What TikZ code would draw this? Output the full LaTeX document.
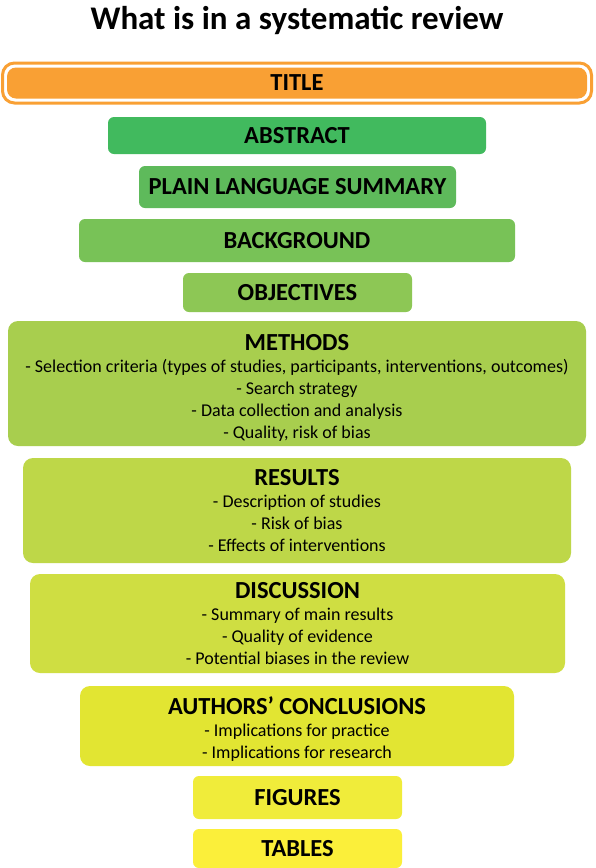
\documentclass[tikz,border=0pt]{standalone}
\usepackage{fontspec}
\setmainfont{Carlito}
\begin{document}
\begin{tikzpicture}[x=1pt,y=-1pt,
  box/.style={rounded corners=10pt, inner sep=0pt, align=center, text=black,
    font=\fontsize{18}{22}\selectfont},
  sbox/.style={box, rounded corners=6pt},
  hd/.style={font=\fontsize{24.5}{26}\selectfont\bfseries}]
\definecolor{cTitle}{RGB}{249,160,52}
\definecolor{cAbs}{RGB}{65,186,94}
\definecolor{cPls}{RGB}{94,186,91}
\definecolor{cBack}{RGB}{120,194,87}
\definecolor{cObj}{RGB}{141,199,85}
\definecolor{cMeth}{RGB}{168,206,78}
\definecolor{cRes}{RGB}{190,215,72}
\definecolor{cDis}{RGB}{207,222,66}
\definecolor{cAut}{RGB}{226,229,50}
\definecolor{cFig}{RGB}{240,236,58}
\definecolor{cTab}{RGB}{251,239,58}
\useasboundingbox (0,0) rectangle (595,868);
\fill[white] (0,0) rectangle (595,868);
\newcommand{\hdtxt}[2][0pt]{{\fontsize{24.5}{26}\selectfont\bfseries\rule{0pt}{#1}#2}}
\node[font=\fontsize{33}{36}\selectfont\bfseries] (maintitle) at (297,20) {What is in a systematic review};
\node[draw=cTitle, line width=3pt, rounded corners=12pt, minimum width=589pt, minimum height=40pt] (titleouter) at (297,83) {};
\node[sbox, fill=cTitle, rounded corners=9pt, minimum width=580pt, minimum height=31pt, hd] (title) at (297,83) {TITLE};
\node[sbox, fill=cAbs, minimum width=378pt, minimum height=37pt, hd] (abstract) at (297,135.5) {ABSTRACT};
\node[sbox, fill=cPls, minimum width=317pt, minimum height=42pt, hd] (pls) at (297.5,187) {PLAIN LANGUAGE SUMMARY};
\node[sbox, fill=cBack, minimum width=436pt, minimum height=43pt, hd] (background) at (297,240.5) {BACKGROUND};
\node[sbox, fill=cObj, minimum width=229pt, minimum height=39pt, hd] (objectives) at (297.5,292.5) {OBJECTIVES};
\node[box, fill=cMeth, minimum width=578pt, minimum height=125pt] (methods) at (297,383.5)
  {\hdtxt[24pt]{METHODS}\\[0pt] - Selection criteria (types of studies, participants, interventions, outcomes)\\ - Search strategy\\ - Data collection and analysis\\ - Quality, risk of bias};
\node[box, fill=cRes, minimum width=548pt, minimum height=105pt] (results) at (297,510.5)
  {\hdtxt{RESULTS}\\[0pt] - Description of studies\\ - Risk of bias\\ - Effects of interventions};
\node[box, fill=cDis, minimum width=535pt, minimum height=99pt] (discussion) at (297.5,623.5)
  {\hdtxt{DISCUSSION}\\[0pt] - Summary of main results\\ - Quality of evidence\\ - Potential biases in the review};
\node[box, fill=cAut, minimum width=434pt, minimum height=80pt] (conclusions) at (297,726)
  {\hdtxt[23pt]{AUTHORS’ CONCLUSIONS}\\[0pt] - Implications for practice\\ - Implications for research};
\node[sbox, fill=cFig, minimum width=209pt, minimum height=43pt, hd] (figures) at (297.5,797.5) {FIGURES};
\node[sbox, fill=cTab, minimum width=209pt, minimum height=39pt, hd] (tables) at (297.5,848.5) {TABLES};
\end{tikzpicture}
\end{document}
